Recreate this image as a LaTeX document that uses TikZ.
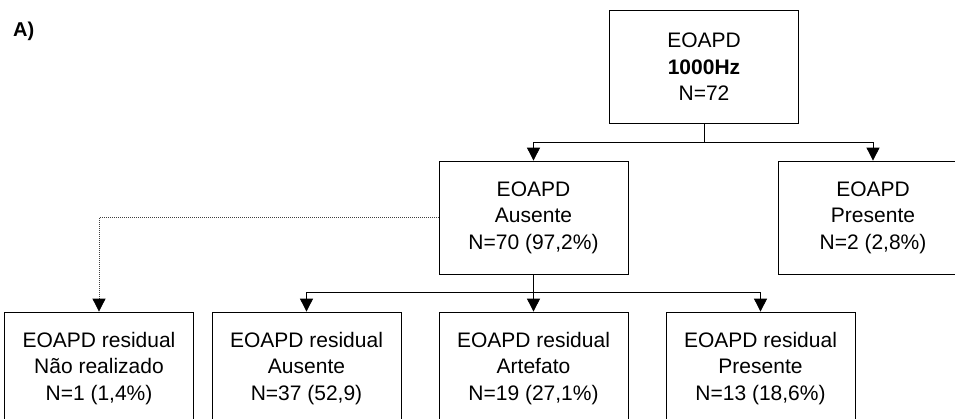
\documentclass[tikz,border=0pt]{standalone}
\usepackage{fontspec}
\setmainfont{Liberation Sans}
\usetikzlibrary{arrows.meta}
\begin{document}
\begin{tikzpicture}[x=1pt,y=1pt,
  box/.style={draw=black, line width=0.8pt, minimum width=189pt, minimum height=113pt,
    inner sep=0pt, align=center, font=\fontsize{21}{26.6}\selectfont},
  conn/.style={draw=black, line width=0.9pt},
  arr/.style={conn, -{Triangle[width=13pt,length=13pt]}},
  dotarr/.style={draw=black!75, line width=0.8pt, dash pattern=on 1pt off 1pt,
    -{Triangle[width=13pt,length=13pt,color=black]}}]
\clip (0,0) rectangle (955,-418);
\fill[white] (0,0) rectangle (955,-418);
\node[anchor=base west, font=\bfseries\fontsize{20}{24}\selectfont, inner sep=0pt] (lab) at (13,-36) {A)};
\node[box] (top) at (704,-67) {EOAPD\\ \textbf{1000Hz}\\N=72};
\node[box] (aus) at (533.5,-217.5) {EOAPD\\Ausente\\N=70 (97,2\%)};
\node[box] (pres) at (873,-217.5) {EOAPD\\Presente\\N=2 (2,8\%)};
\node[box] (b1) at (99,-368.5) {EOAPD residual\\Não realizado\\N=1 (1,4\%)};
\node[box] (b2) at (306.5,-368.5) {EOAPD residual\\Ausente\\N=37 (52,9)};
\node[box] (b3) at (533.5,-368.5) {EOAPD residual\\Artefato\\N=19 (27,1\%)};
\node[box] (b4) at (760.5,-368.5) {EOAPD residual\\Presente\\N=13 (18,6\%)};
% top level
\draw[conn] (top.south) -- ++(0,-19) coordinate (j1);
\draw[arr] (j1) -| (aus.north);
\draw[arr] (j1) -| (pres.north);
% second level
\draw[conn] (aus.south) -- ++(0,-18) coordinate (j2);
\draw[arr] (j2) -| (b2.north);
\draw[arr] (j2) -- (b3.north);
\draw[arr] (j2) -| (b4.north);
% dotted
\draw[dotarr] (aus.west) -| (b1.north);
\end{tikzpicture}
\end{document}
